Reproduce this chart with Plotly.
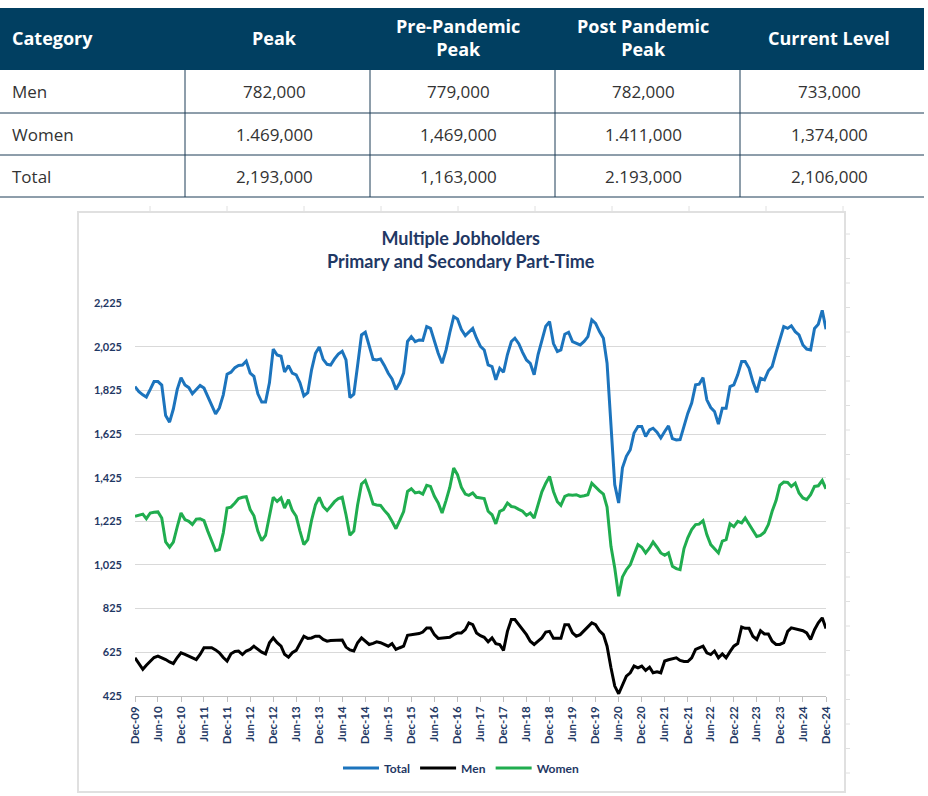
import pandas as pd
import plotly.graph_objects as go

# ---------------- table data ----------------
table_header = ["Category", "Peak", "Pre-Pandemic<br>Peak", "Post Pandemic<br>Peak", "Current Level"]
categories = ["Men", "Women", "Total"]
peak = ["782,000", "1.469,000", "2,193,000"]
pre_pandemic_peak = ["779,000", "1,469,000", "1,163,000"]
post_pandemic_peak = ["782,000", "1.411,000", "2.193,000"]
current_level = ["733,000", "1,374,000", "2,106,000"]

# ---------------- chart data (thousands, monthly Dec-09 .. Dec-24) ----------------
start_month = "2009-12-01"
total = [
    1843, 1820, 1805, 1795, 1830, 1866, 1866, 1850, 1710, 1680,
    1740, 1830, 1884, 1850, 1838, 1810, 1830, 1848, 1836, 1800,
    1760, 1718, 1745, 1805, 1900, 1909, 1930, 1940, 1942, 1960,
    1905, 1890, 1810, 1772, 1772, 1860, 2015, 1988, 1982, 1910,
    1939, 1905, 1897, 1860, 1800, 1815, 1920, 1996, 2025, 1968,
    1945, 1942, 1970, 1992, 2005, 1965, 1792, 1808, 1940, 2080,
    2092, 2034, 1968, 1965, 1970, 1940, 1904, 1878, 1830, 1860,
    1905, 2050, 2072, 2049, 2057, 2055, 2118, 2110, 2050, 1996,
    1950, 2010, 2090, 2164, 2153, 2105, 2077, 2095, 2110, 2065,
    2027, 2011, 1942, 1935, 1874, 1927, 1909, 1990, 2050, 2065,
    2040, 2000, 1965, 1950, 1897, 1990, 2060, 2120, 2141, 2040,
    2004, 2011, 2083, 2092, 2049, 2042, 2034, 2050, 2072, 2149,
    2133, 2095, 2065, 1950, 1650, 1393, 1309, 1470, 1523, 1553,
    1630, 1660, 1660, 1614, 1644, 1652, 1634, 1607, 1637, 1663,
    1604, 1598, 1600, 1665, 1720, 1767, 1851, 1854, 1884, 1782,
    1747, 1729, 1671, 1744, 1744, 1843, 1851, 1897, 1958, 1958,
    1927, 1866, 1817, 1881, 1874, 1915, 1935, 2000, 2060, 2118,
    2110, 2122, 2095, 2080, 2034, 2015, 2011, 2110, 2129, 2193,
    2106,
]
men = [
    599, 570, 546, 565, 584, 600, 607, 600, 591, 580,
    572, 600, 622, 615, 607, 600, 591, 614, 645, 645,
    645, 635, 622, 600, 584, 617, 628, 630, 614, 630,
    637, 652, 637, 625, 617, 668, 690, 668, 652, 615,
    602, 622, 633, 665, 698, 688, 690, 698, 698, 683,
    675, 678, 678, 680, 680, 648, 635, 630, 668, 690,
    675, 660, 665, 672, 668, 660, 652, 664, 637, 645,
    652, 702, 705, 705, 710, 717, 736, 736, 705, 688,
    690, 690, 693, 705, 713, 713, 728, 759, 751, 713,
    700, 693, 672, 690, 664, 660, 633, 720, 774, 774,
    750, 728, 705, 675, 660, 675, 690, 717, 720, 688,
    688, 688, 751, 751, 713, 698, 705, 723, 740, 759,
    751, 723, 705, 652, 553, 469, 434, 470, 515, 530,
    561, 553, 561, 541, 556, 530, 535, 530, 584, 590,
    596, 599, 587, 582, 582, 599, 637, 645, 652, 622,
    614, 630, 599, 617, 599, 627, 652, 664, 740, 734,
    734, 698, 683, 723, 708, 708, 675, 660, 660, 668,
    720, 736, 731, 725, 723, 713, 683, 728, 759, 782,
    733,
]
women = [
    1248, 1252, 1258, 1237, 1263, 1266, 1268, 1240, 1130, 1106,
    1130, 1200, 1263, 1233, 1225, 1210, 1235, 1237, 1228, 1180,
    1130, 1090, 1095, 1172, 1286, 1290, 1309, 1329, 1335, 1338,
    1279, 1250, 1180, 1136, 1160, 1250, 1335, 1316, 1332, 1286,
    1324, 1275, 1248, 1180, 1118, 1141, 1230, 1301, 1335, 1293,
    1274, 1293, 1315, 1329, 1335, 1255, 1161, 1180, 1300, 1396,
    1412, 1362, 1304, 1300, 1298, 1275, 1255, 1225, 1191, 1230,
    1270, 1362, 1374, 1355, 1359, 1350, 1390, 1385, 1340, 1309,
    1263, 1320, 1380, 1469, 1439, 1381, 1350, 1344, 1355, 1335,
    1332, 1329, 1271, 1255, 1213, 1271, 1279, 1309, 1293, 1290,
    1280, 1271, 1252, 1263, 1240, 1300, 1360, 1400, 1431, 1362,
    1315, 1298, 1339, 1347, 1345, 1347, 1339, 1342, 1347, 1400,
    1381, 1365, 1350, 1290, 1110, 1011, 881, 970, 1003, 1026,
    1072, 1118, 1106, 1080, 1103, 1130, 1106, 1080, 1069, 1080,
    1019, 1008, 1003, 1100, 1149, 1187, 1210, 1212, 1228, 1164,
    1118, 1100, 1080, 1134, 1141, 1213, 1200, 1225, 1218, 1240,
    1210, 1187, 1155, 1160, 1175, 1210, 1271, 1320, 1390, 1405,
    1403, 1385, 1400, 1355, 1332, 1324, 1347, 1385, 1388, 1412,
    1374,
]
y_ticks = [425, 625, 825, 1025, 1225, 1425, 1625, 1825, 2025, 2225]
chart_title = "Multiple Jobholders<br>Primary and Secondary Part-Time"

# ---------------- figure ----------------
W, H = 928, 796
months = pd.date_range(start_month, periods=len(total), freq="MS")

NAVY = "#1f3864"
HEADER_BG = "#013f61"
TABLE_LINE = "#1d3d57"
FRAME = "#e0e0e0"


def px(x):
    return x / W


def py(y):
    return 1 - y / H


fig = go.Figure()

series = [("Total", total, "#1c74bd"), ("Men", men, "#000000"), ("Women", women, "#20ad4f")]
for name, vals, col in series:
    fig.add_trace(go.Scatter(
        x=months, y=vals, name=name, mode="lines",
        line=dict(color=col, width=3),
        xaxis="x", yaxis="y",
    ))

shapes = []
annotations = []

# ---- table (drawn with shapes + annotations) ----
col_edges = [0, 185, 370, 555, 740, 924]
col_text_x = [10, 274, 458, 643, 829]
header_top, header_bot = 8, 70
row_edges = [70, 113, 155, 197]

shapes.append(dict(type="rect", xref="paper", yref="paper",
                   x0=px(0), x1=px(924), y0=py(header_bot), y1=py(header_top),
                   fillcolor=HEADER_BG, line=dict(width=0), layer="above"))
for ye in row_edges[1:]:
    shapes.append(dict(type="line", xref="paper", yref="paper",
                       x0=px(0), x1=px(924), y0=py(ye), y1=py(ye),
                       line=dict(color=TABLE_LINE, width=1)))
for xe in col_edges[1:-1]:
    shapes.append(dict(type="line", xref="paper", yref="paper",
                       x0=px(xe), x1=px(xe), y0=py(row_edges[-1]), y1=py(row_edges[0]),
                       line=dict(color=TABLE_LINE, width=1)))

header_y = (header_top + header_bot) / 2 - 1.5
for i, h in enumerate(table_header):
    annotations.append(dict(
        text="<b>%s</b>" % h, x=px(col_text_x[i]), y=py(header_y),
        xref="paper", yref="paper", showarrow=False,
        xanchor="left" if i == 0 else "center", yanchor="middle",
        align="left" if i == 0 else "center",
        font=dict(family="Open Sans", size=18, color="white"),
    ))

columns = [categories, peak, pre_pandemic_peak, post_pandemic_peak, current_level]
for c, colvals in enumerate(columns):
    for r, v in enumerate(colvals):
        yc = (row_edges[r] + row_edges[r + 1]) / 2
        annotations.append(dict(
            text=v, x=px(col_text_x[c]), y=py(yc),
            xref="paper", yref="paper", showarrow=False,
            xanchor="left" if c == 0 else "center", yanchor="middle",
            font=dict(family="Open Sans", size=17, color="#333333"),
        ))

# ---- chart frame (embedded picture border with its faint ruler marks) ----
shapes.append(dict(type="rect", xref="paper", yref="paper",
                   x0=px(78), x1=px(845), y0=py(792), y1=py(212),
                   line=dict(color=FRAME, width=2),
                   fillcolor="rgba(0,0,0,0)", layer="below"))
for k in range(10):
    xm = 150 + 77 * k
    shapes.append(dict(type="line", xref="paper", yref="paper",
                       x0=px(xm), x1=px(xm), y0=py(213), y1=py(206),
                       line=dict(color=FRAME, width=1)))
for k in range(23):
    ym = 234 + 24.5 * k
    shapes.append(dict(type="line", xref="paper", yref="paper",
                       x0=px(845), x1=px(850), y0=py(ym), y1=py(ym),
                       line=dict(color=FRAME, width=1)))

# ---- chart title ----
annotations.append(dict(
    text="<b>%s</b>" % chart_title,
    x=px(461), y=py(249.5), xref="paper", yref="paper",
    xanchor="center", yanchor="middle", showarrow=False,
    font=dict(family="Lato", size=18, color=NAVY), align="center",
))

fig.update_layout(
    width=W, height=H,
    margin=dict(l=0, r=0, t=0, b=0),
    paper_bgcolor="white",
    plot_bgcolor="white",
    font=dict(family="Lato", color=NAVY),
    xaxis=dict(
        domain=[px(135), px(826)],
        type="date",
        range=[months[0], months[-1]],
        tickmode="linear",
        tick0=start_month,
        dtick="M6",
        tickformat="%b-%y",
        tickangle=-90,
        tickfont=dict(family="Lato", size=11.5, color=NAVY, weight="bold"),
        showgrid=False,
        showline=True,
        linecolor="#bfbfbf",
        linewidth=1,
        ticks="outside",
        ticklen=5,
        tickcolor="#bfbfbf",
        zeroline=False,
        automargin=False,
        anchor="y",
    ),
    yaxis=dict(
        domain=[py(695.7), py(303.3)],
        range=[425, 2225],
        tickmode="array",
        tickvals=y_ticks,
        tickformat=",",
        tickfont=dict(family="Lato", size=11, color=NAVY, weight="bold"),
        showgrid=True,
        gridcolor="#d9d9d9",
        gridwidth=1,
        showline=False,
        zeroline=False,
        ticklabelstandoff=12,
        automargin=False,
        anchor="x",
    ),
    showlegend=True,
    legend=dict(
        orientation="h",
        x=px(461), xanchor="center",
        y=py(768), yanchor="middle",
        font=dict(family="Lato", size=12, color=NAVY, weight="bold"),
        itemwidth=36,
        bgcolor="rgba(0,0,0,0)",
    ),
    shapes=shapes,
    annotations=annotations,
)

# remove the browser's default 8px page margin so the figure sits at (0, 0)
fig.write_html(
    "out.html",
    config={"displayModeBar": False},
    post_script="document.body.style.margin='0';document.body.style.overflow='hidden';",
)
